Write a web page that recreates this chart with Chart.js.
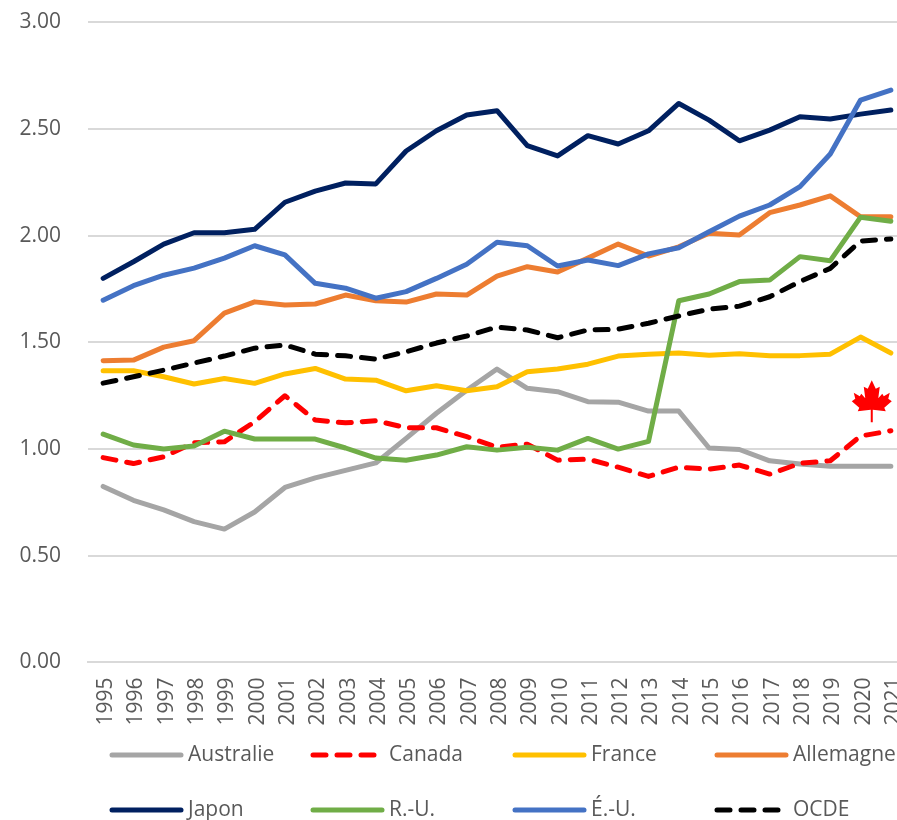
<!DOCTYPE html>
<html lang="fr"><head><meta charset="utf-8">
<style>html,body{margin:0;padding:0;background:#fff;width:897px;height:820px;overflow:hidden}canvas{display:block}</style>
<script src="https://cdn.jsdelivr.net/npm/chart.js@4"></script>
</head><body>
<canvas id="c" width="920" height="820"></canvas>
<script>
const years = ['1995','1996','1997','1998','1999','2000','2001','2002','2003','2004','2005','2006','2007','2008','2009','2010','2011','2012','2013','2014','2015','2016','2017','2018','2019','2020','2021'];
const australie = [0.825,0.76,0.715,0.66,0.625,0.705,0.82,0.865,0.90,0.935,1.05,1.168,1.276,1.375,1.285,1.269,1.222,1.22,1.178,1.178,1.005,0.998,0.945,0.93,0.92,0.92,0.92];
const canada = [0.96,0.932,0.964,1.03,1.034,1.128,1.25,1.136,1.123,1.133,1.10,1.10,1.058,1.009,1.023,0.948,0.953,0.915,0.872,0.915,0.906,0.925,0.883,0.933,0.945,1.061,1.086];
const france = [1.367,1.367,1.339,1.305,1.331,1.308,1.352,1.378,1.328,1.323,1.273,1.297,1.273,1.292,1.362,1.375,1.398,1.436,1.445,1.45,1.44,1.447,1.437,1.438,1.445,1.525,1.45];
const allemagne = [1.414,1.417,1.478,1.508,1.637,1.69,1.675,1.68,1.722,1.695,1.689,1.727,1.722,1.811,1.855,1.83,1.895,1.961,1.905,1.948,2.012,2.003,2.108,2.144,2.187,2.089,2.089];
const japon = [1.80,1.878,1.961,2.014,2.014,2.03,2.157,2.209,2.247,2.243,2.397,2.492,2.566,2.586,2.422,2.374,2.469,2.43,2.492,2.62,2.542,2.445,2.495,2.558,2.547,2.57,2.589];
const ru = [1.07,1.019,1.0,1.014,1.084,1.047,1.047,1.047,1.005,0.958,0.948,0.972,1.011,0.995,1.009,0.995,1.05,1.0,1.036,1.695,1.727,1.785,1.792,1.902,1.883,2.087,2.068];
const eu = [1.698,1.766,1.815,1.848,1.895,1.953,1.91,1.777,1.754,1.707,1.738,1.80,1.866,1.969,1.953,1.858,1.886,1.86,1.915,1.944,2.019,2.092,2.144,2.23,2.383,2.636,2.683];
const ocde = [1.309,1.339,1.37,1.403,1.436,1.473,1.488,1.445,1.437,1.422,1.456,1.497,1.53,1.572,1.558,1.522,1.558,1.562,1.59,1.624,1.656,1.67,1.714,1.785,1.847,1.975,1.985];
const seriesNames = ['Australie','Canada','France','Allemagne','Japon','R.-U.','É.-U.','OCDE'];
const seriesValues = [australie,canada,france,allemagne,japon,ru,eu,ocde];
const seriesColors = ['#A5A5A5','#FF0000','#FFC000','#ED7D31','#002060','#70AD47','#4472C4','#000000'];
const dashedSeries = ['Canada','OCDE'];

const FONT = '"Open Sans", sans-serif';
const TEXT = '#595959';
const DASH = [13, 11];

const legendPlugin = {
  id: 'gridLegend',
  afterDraw(chart) {
    const ctx = chart.ctx;
    const cols = [110, 311, 513, 715], rows = [755, 810];
    ctx.save();
    ctx.font = '21px ' + FONT;
    ctx.textBaseline = 'middle';
    ctx.textAlign = 'left';
    chart.data.datasets.forEach((d, i) => {
      const x = cols[i % 4], y = rows[Math.floor(i / 4)];
      ctx.beginPath();
      ctx.lineCap = 'round';
      ctx.lineWidth = 5;
      ctx.strokeStyle = d.borderColor;
      ctx.setLineDash(d.borderDash && d.borderDash.length ? DASH : []);
      ctx.moveTo(x + 2, y);
      ctx.lineTo(x + 71, y);
      ctx.stroke();
      ctx.setLineDash([]);
      ctx.fillStyle = TEXT;
      ctx.fillText(d.label, x + 78, y);
    });
    ctx.restore();
  }
};

const leafPlugin = {
  id: 'mapleLeaf',
  afterDatasetsDraw(chart) {
    const half = [[0,0],[4,8.5],[8,6.5],[6.5,18],[10.5,13.5],[12,16],[18,12.5],[16.5,18.5],[20,21],[12.5,27.5],[14,31],[1,29.5],[1,42]];
    const xs = chart.scales.x, ys = chart.scales.y;
    const cx = xs.getPixelForValue(25) + 0.37 * (xs.getPixelForValue(26) - xs.getPixelForValue(25));
    const top = ys.getPixelForValue(1.323);
    const ctx = chart.ctx;
    ctx.save();
    ctx.fillStyle = '#FF0000';
    ctx.beginPath();
    half.forEach(([a, b], i) => i ? ctx.lineTo(cx + a, top + b) : ctx.moveTo(cx + a, top + b));
    half.slice().reverse().forEach(([a, b]) => ctx.lineTo(cx - a, top + b));
    ctx.closePath();
    ctx.fill();
    ctx.restore();
  }
};

new Chart(document.getElementById('c'), {
  type: 'line',
  data: {
    labels: years,
    datasets: seriesNames.map((name, i) => ({
      label: name,
      data: seriesValues[i],
      borderColor: seriesColors[i],
      backgroundColor: seriesColors[i],
      borderWidth: 5,
      borderCapStyle: 'round',
      borderJoinStyle: 'round',
      borderDash: dashedSeries.includes(name) ? DASH : [],
      pointRadius: 0,
      tension: 0,
      fill: false,
      order: seriesNames.length - i
    }))
  },
  options: {
    responsive: false,
    animation: false,
    layout: { autoPadding: false, padding: { top: 22.4, right: 14, left: 0, bottom: 0 } },
    plugins: { legend: { display: false }, tooltip: { enabled: false } },
    scales: {
      x: {
        offset: true,
        grid: { display: false, drawTicks: false },
        border: { display: true, color: '#D9D9D9', width: 2 },
        ticks: { autoSkip: false, minRotation: 90, maxRotation: 90, padding: 15, labelOffset: 3, color: TEXT, font: { family: FONT, size: 21 } },
        afterFit(s) { s.height = 157.6; s.paddingLeft = 0; s.paddingRight = 0; }
      },
      y: {
        min: 0, max: 3,
        grid: { color: '#D9D9D9', lineWidth: 2, drawTicks: false },
        border: { display: false },
        ticks: { stepSize: 0.5, padding: 27, color: TEXT, font: { family: FONT, size: 21 }, callback: v => v.toFixed(2) },
        afterFit(s) { s.width = 88; s.paddingTop = 0; s.paddingBottom = 0; }
      }
    }
  },
  plugins: [legendPlugin, leafPlugin]
});
</script>
</body></html>
